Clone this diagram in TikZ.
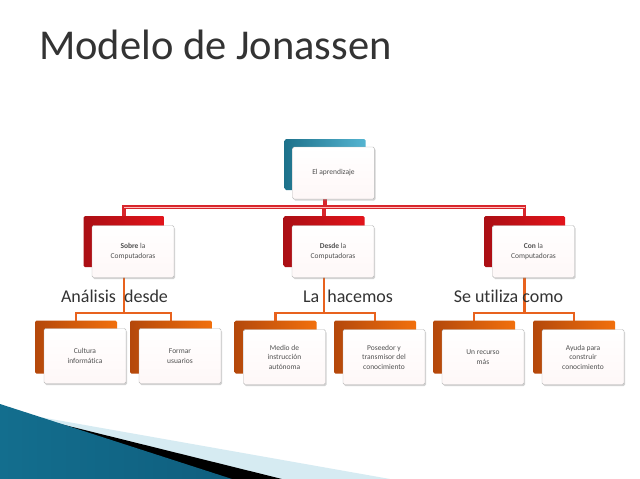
\documentclass[tikz,border=0pt]{standalone}
\usepackage{fontspec}
\setmainfont{Carlito}[Ligatures=NoCommon]
\usetikzlibrary{shadows,positioning,calc}
\pgfdeclarelayer{bg}
\pgfdeclarelayer{paper}
\pgfsetlayers{paper,bg,main}
\definecolor{boxtext}{HTML}{505050}
\definecolor{titlecol}{HTML}{333333}
\definecolor{bluebk}{HTML}{2AA2C6}
\definecolor{redbk}{HTML}{E3141B}
\definecolor{orangebk}{HTML}{F0600F}
\definecolor{redline}{HTML}{D8262C}
\definecolor{orline}{HTML}{E8621E}
\definecolor{swA}{HTML}{136E8E}
\definecolor{swB}{HTML}{4DB5D6}
\definecolor{swC}{HTML}{0F5E7E}
\definecolor{swLight}{HTML}{D6EBF2}
\tikzset{
  frontbox/.style={draw=gray!55, rounded corners=1.5pt, top color=white, bottom color=black!9!red!3!white,
    minimum width=82pt, minimum height=52pt, inner sep=1pt, align=center, font=\fontsize{7.5}{9.5}\selectfont,
    text=boxtext, drop shadow={shadow xshift=1pt, shadow yshift=-1.5pt, opacity=0.35}},
  backbox/.style={rounded corners=1.5pt, minimum width=81pt, minimum height=51pt, inner sep=0pt},
  bluebox/.style={backbox, left color=bluebk!70!black, right color=bluebk!80!white},
  redbox/.style={backbox, left color=redbk!75!black, right color=redbk},
  orbox/.style={backbox, left color=orangebk!75!black, right color=orangebk!90!yellow},
  redconn/.style={draw=redline, line width=3.2pt},
  redinner/.style={draw=red!25!white, line width=0.9pt},
  orconn/.style={draw=orline, line width=2.6pt},
  lab/.style={font=\fontsize{18}{21}\selectfont, text=titlecol, inner sep=0pt, anchor=base},
}
\begin{document}
\begin{tikzpicture}[x=1pt,y=-1pt]
\useasboundingbox (0,0) rectangle (640,479);
\begin{pgfonlayer}{paper}
\fill[white] (0,0) rectangle (640,479);
\end{pgfonlayer}
% title
\node[anchor=base west, inner sep=0pt, text=titlecol, font=\fontsize{42.5}{46}\selectfont] (title) at (39,59) {Modelo de Jonassen};

% top box
\node[bluebox] (topb) at (325,164.5) {};
\node[frontbox] (topf) at (333.5,173) {El aprendizaje};

% middle boxes
\node[redbox] (m1b) at (124,241.5) {};
\node[frontbox] (m1f) at (133,251.5) {\textbf{Sobre} la\\[1pt] Computadoras};
\node[redbox] (m2b) at (324,241.5) {};
\node[frontbox] (m2f) at (333,251.5) {\textbf{Desde} la\\[1pt] Computadoras};
\node[redbox] (m3b) at (524.5,241.5) {};
\node[frontbox] (m3f) at (533.5,251.5) {\textbf{Con} la\\[1pt] Computadoras};

% bottom boxes
\foreach \n/\x in {b1/76,b2/171,b3/275.5,b4/375,b5/474,b6/574}{
  \node[orbox, minimum width=82pt, minimum height=53pt] (\n b) at (\x,347) {};
}
\node[frontbox, minimum height=55pt] (b1f) at (85,356) {Cultura\\informática};
\node[frontbox, minimum height=55pt] (b2f) at (180,356) {Formar\\usuarios};
\node[frontbox, minimum height=55pt] (b3f) at (284.5,357) {Medio de\\instrucción\\autónoma};
\node[frontbox, minimum height=55pt] (b4f) at (384,357) {Poseedor y\\transmisor del\\conocimiento};
\node[frontbox, minimum height=55pt] (b5f) at (483,357) {Un recurso\\más};
\node[frontbox, minimum height=55pt] (b6f) at (583,357) {Ayuda para\\construir\\conocimiento};

% labels
\node[lab] (l1) at (114.5,302) {Análisis \ desde};
\node[lab] (l2) at (348,302) {La \ hacemos};
\node[lab] (l3) at (508.5,302) {Se utiliza como};

\begin{pgfonlayer}{bg}
  \coordinate (busr) at (0,207);
  \coordinate (buso) at (0,313);
  % red tree
  \draw[redconn] (topb.center) -- (topb.center |- busr);
  \draw[redconn] (m1b.center) |- (busr -| m3b.center) -- (m3b.center);
  \draw[redconn] (m2b.center) -- (m2b.center |- busr);
  \draw[redinner] (m1b.center |- busr) -- (busr -| m3b.center);
  % orange trees
  \draw[orconn] (m1b.center) -- (m1b.center |- buso);
  \draw[orconn] (b1b.center) |- (buso -| b2b.center) -- (b2b.center);
  \draw[orconn] (m2b.center) -- (m2b.center |- buso);
  \draw[orconn] (b3b.center) |- (buso -| b4b.center) -- (b4b.center);
  \draw[orconn] (m3b.center) -- (m3b.center |- buso);
  \draw[orconn] (b5b.center) |- (buso -| b6b.center) -- (b6b.center);
\end{pgfonlayer}

% bottom decoration
\fill[swLight] (0,410) -- (390,479) -- (0,479) -- cycle;
\fill[black] (0,409) -- (282,479) -- (0,479) -- cycle;
\shade[left color=swA, middle color=swB, right color=swC]
  (0,404) -- (232,479) -- (0,479) -- cycle;
\end{tikzpicture}
\end{document}
